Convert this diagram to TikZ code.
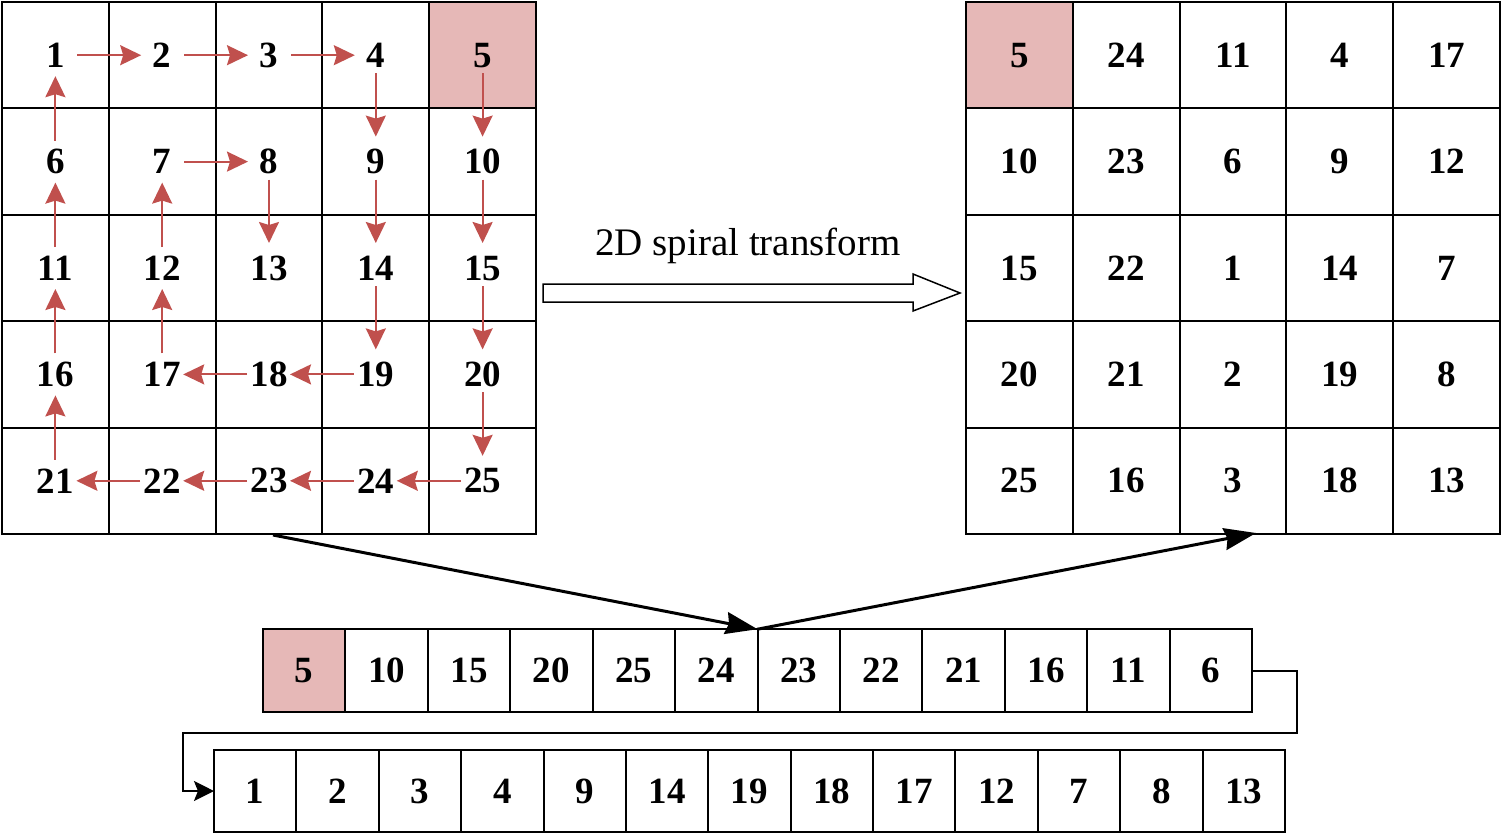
\documentclass[tikz,border=0pt]{standalone}
\usepackage{fontspec}
\setmainfont{Liberation Serif}
\usetikzlibrary{arrows.meta}
\definecolor{pinkc}{RGB}{230,184,183}
\definecolor{redc}{RGB}{192,80,77}
\begin{document}
\begin{tikzpicture}[x=1pt,y=-1pt,
  numfont/.style={font=\fontsize{37}{40}\selectfont\bfseries},
  cell/.style={draw,line width=2pt,minimum width=106.8pt,minimum height=106.4pt,inner sep=0pt,outer sep=0pt,numfont},
  scell/.style={draw,line width=2pt,minimum width=82.4pt,minimum height=82.6pt,inner sep=0pt,outer sep=0pt,numfont},
  redarrow/.style={draw=redc,line width=2pt,-{Stealth[length=21pt,width=20pt,inset=3pt]}},
  blkarrow/.style={draw=black,line width=3pt,-{Stealth[length=32pt,width=22pt,inset=3pt]}},
  conn/.style={draw=black,line width=2pt,-{Stealth[length=20pt,width=20pt,inset=4pt]}},
  hollow/.style={draw=black,line width=1.5pt,fill=white,line join=miter}
]
\useasboundingbox (0,0) rectangle (1502,833);
% pink backgrounds
\fill[pinkc] (429,2) rectangle (536,108);
\fill[pinkc] (966,2) rectangle (1073,108);
\fill[pinkc] (263,629) rectangle (345.4,712);
% left grid
\foreach \r in {0,...,4}{
  \foreach \c in {0,...,4}{
    \pgfmathtruncatemacro\v{5*\r+\c+1}
    \node[cell] (L\v) at ({55.4+106.8*\c},{55.2+106.4*\r}) {\v};
  }
}
% right grid
\foreach \v [count=\i from 0] in {5,24,11,4,17,10,23,6,9,12,15,22,1,14,7,20,21,2,19,8,25,16,3,18,13}{
  \pgfmathtruncatemacro\r{int(\i/5)}
  \pgfmathtruncatemacro\c{mod(\i,5)}
  \node[cell] (R\i) at ({1019.4+106.8*\c},{55.2+106.4*\r}) {\v};
}
% row A
\foreach \v [count=\i from 0] in {5,10,15,20,25,24,23,22,21,16,11,6}{
  \node[scell] (A\i) at ({263+82.42*(\i+0.5)},670.5) {\v};
}
% row B
\foreach \v [count=\i from 0] in {1,2,3,4,9,14,19,18,17,12,7,8,13}{
  \node[scell,minimum height=82pt] (B\i) at ({214+82.38*(\i+0.5)},791) {\v};
}
% red spiral arrows
\foreach \a/\b in {1/2,2/3,3/4,7/8,19/18,18/17,25/24,24/23,23/22,22/21}
  \draw[redarrow,shorten <=22pt,shorten >=21pt] (L\a.center) -- (L\b.center);
\foreach \a/\b in {4/9,5/10,8/13,9/14,10/15,14/19,15/20,20/25}
  \draw[redarrow,shorten <=18pt,shorten >=25pt] (L\a.center) -- (L\b.center);
\foreach \a/\b in {6/1,11/6,12/7,16/11,17/12,21/16}
  \draw[redarrow,shorten <=21pt,shorten >=21pt] (L\a.center) -- (L\b.center);
% transform label and hollow arrow
\node[font=\fontsize{39}{42}\selectfont,anchor=base,inner sep=0pt] (lbl) at (748,255) {2D spiral transform};
\draw[hollow] (543,284) -- (913,284) -- (913,274) -- (960,293) -- (913,311) -- (913,302) -- (543,302) -- cycle;
% black arrows
\coordinate (s1) at (273,535);
\coordinate (e2) at (1256,533);
\draw[blkarrow] (s1) -- (A5.north east);
\draw[blkarrow] (A5.north east) -- (e2);
% connector between rows
\coordinate (c1) at (1297,733);
\coordinate (c2) at (183,733);
\draw[conn] (A11.east) -| (c1) -- (c2) |- (B0.west);
\end{tikzpicture}
\end{document}
